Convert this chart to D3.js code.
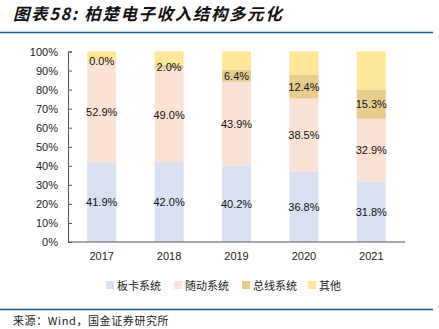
<!DOCTYPE html>
<html>
<head>
<meta charset="utf-8">
<script src="https://cdn.jsdelivr.net/npm/d3@7"></script>
<style>
  body { margin: 0; background: #fff; }
  svg { display: block; font-family: "Liberation Sans", Arial, sans-serif; }
</style>
</head>
<body>
<div class="chart"></div>
<script>
// data (percent of revenue)
const years = ["2017", "2018", "2019", "2020", "2021"];
const seriesNames = ["板卡系统", "随动系统", "总线系统", "其他"];
const board = [41.9, 42.0, 40.2, 36.8, 31.8];
const follow = [52.9, 49.0, 43.9, 38.5, 32.9];
const bus = [0.0, 2.0, 6.4, 12.4, 15.3];
const other = [5.2, 7.0, 9.5, 12.3, 20.0];
const yTicks = [0, 10, 20, 30, 40, 50, 60, 70, 80, 90, 100];

const colors = ["#DAE1F2", "#FAE3D5", "#E8CC8E", "#FFE698"];

const w = 439, h = 329;
const margin = { top: 52, bottom: 87, left: 68, right: 34 };

const svg = d3.select(".chart").append("svg")
  .attr("width", w)
  .attr("height", h);

// title + rules
svg.append("text")
  .attr("x", 13)
  .attr("y", 20)
  .attr("font-size", 16.5)
  .attr("font-weight", "bold")
  .attr("font-style", "italic")
  .attr("fill", "#111")
  .attr("letter-spacing", 1.6)
  .style("font-family", "'Noto Sans CJK SC', sans-serif")
  .text("图表58:  柏楚电子收入结构多元化");

svg.append("line")
  .attr("x1", 0).attr("x2", 433)
  .attr("y1", 32.5).attr("y2", 32.5)
  .attr("stroke", "#1F5A8B").attr("stroke-width", 1.6);

svg.append("line")
  .attr("x1", 0).attr("x2", 433)
  .attr("y1", 309.5).attr("y2", 309.5)
  .attr("stroke", "#1F5A8B").attr("stroke-width", 1.6);

svg.append("text")
  .attr("x", 13)
  .attr("y", 325)
  .attr("font-size", 11)
  .attr("fill", "#222")
  .attr("letter-spacing", 0.6)
  .style("font-family", "'Noto Sans CJK SC', sans-serif")
  .text("来源：Wind，国金证券研究所");

// stacked table
const table = years.map((yr, i) => ({
  year: yr,
  [seriesNames[0]]: board[i],
  [seriesNames[1]]: follow[i],
  [seriesNames[2]]: bus[i],
  [seriesNames[3]]: other[i]
}));
const stacked = d3.stack().keys(seriesNames)(table);

const x = d3.scaleBand()
  .domain(years)
  .range([margin.left, w - margin.right])
  .paddingInner(0.57)
  .paddingOuter(0.285);

const y = d3.scaleLinear()
  .domain([0, 100])
  .range([h - margin.bottom, margin.top - 0.5]);

const g = svg.append("g");

stacked.forEach((layer, si) => {
  g.selectAll(".bar" + si)
    .data(layer)
    .enter()
    .append("rect")
    .attr("x", d => x(d.data.year))
    .attr("y", d => y(d[1]))
    .attr("width", x.bandwidth())
    .attr("height", d => y(d[0]) - y(d[1]))
    .attr("fill", colors[si]);
});

// labels for all but 其他, drawn on top of every bar
stacked.slice(0, 3).forEach((layer, si) => {
  g.selectAll(".lbl" + si)
    .data(layer)
    .enter()
    .append("text")
    .attr("x", d => x(d.data.year) + x.bandwidth() / 2)
    .attr("y", d => y((d[0] + d[1]) / 2) + 4)
    .attr("text-anchor", "middle")
    .attr("font-size", 11)
    .attr("fill", "#111")
    .text(d => (d[1] - d[0]).toFixed(1) + "%");
});

// y axis
const yAxis = d3.axisLeft(y)
  .tickValues(yTicks)
  .tickSize(-4)
  .tickPadding(10)
  .tickFormat(d => d + "%");

const ya = svg.append("g")
  .attr("transform", `translate(${margin.left},0)`)
  .call(yAxis);
ya.select(".domain").attr("stroke", "#555");
ya.selectAll(".tick line").attr("stroke", "#555");
ya.selectAll(".tick text").attr("font-size", 11).attr("fill", "#222")
  .attr("font-family", "'Liberation Sans', Arial, sans-serif");

// x axis
const xAxis = d3.axisBottom(x).tickSize(0).tickPadding(10);
const xa = svg.append("g")
  .attr("transform", `translate(0,${h - margin.bottom})`)
  .call(xAxis);
xa.select(".domain").attr("stroke", "#555").attr("d", `M${margin.left},0H${w - margin.right}`);
xa.selectAll(".tick text").attr("font-size", 11).attr("fill", "#222")
  .attr("font-family", "'Liberation Sans', Arial, sans-serif");

// legend
const legendX = [106, 174, 242, 308];
const legend = svg.append("g").attr("transform", "translate(0,285)");
seriesNames.forEach((name, i) => {
  legend.append("rect")
    .attr("x", legendX[i])
    .attr("y", -4)
    .attr("width", 8)
    .attr("height", 8)
    .attr("fill", colors[i]);
  legend.append("text")
    .attr("x", legendX[i] + 11)
    .attr("y", 4.5)
    .attr("font-size", 11)
    .attr("fill", "#222")
    .style("font-family", "'Noto Sans CJK SC', sans-serif")
    .text(name);
});
</script>
</body>
</html>
